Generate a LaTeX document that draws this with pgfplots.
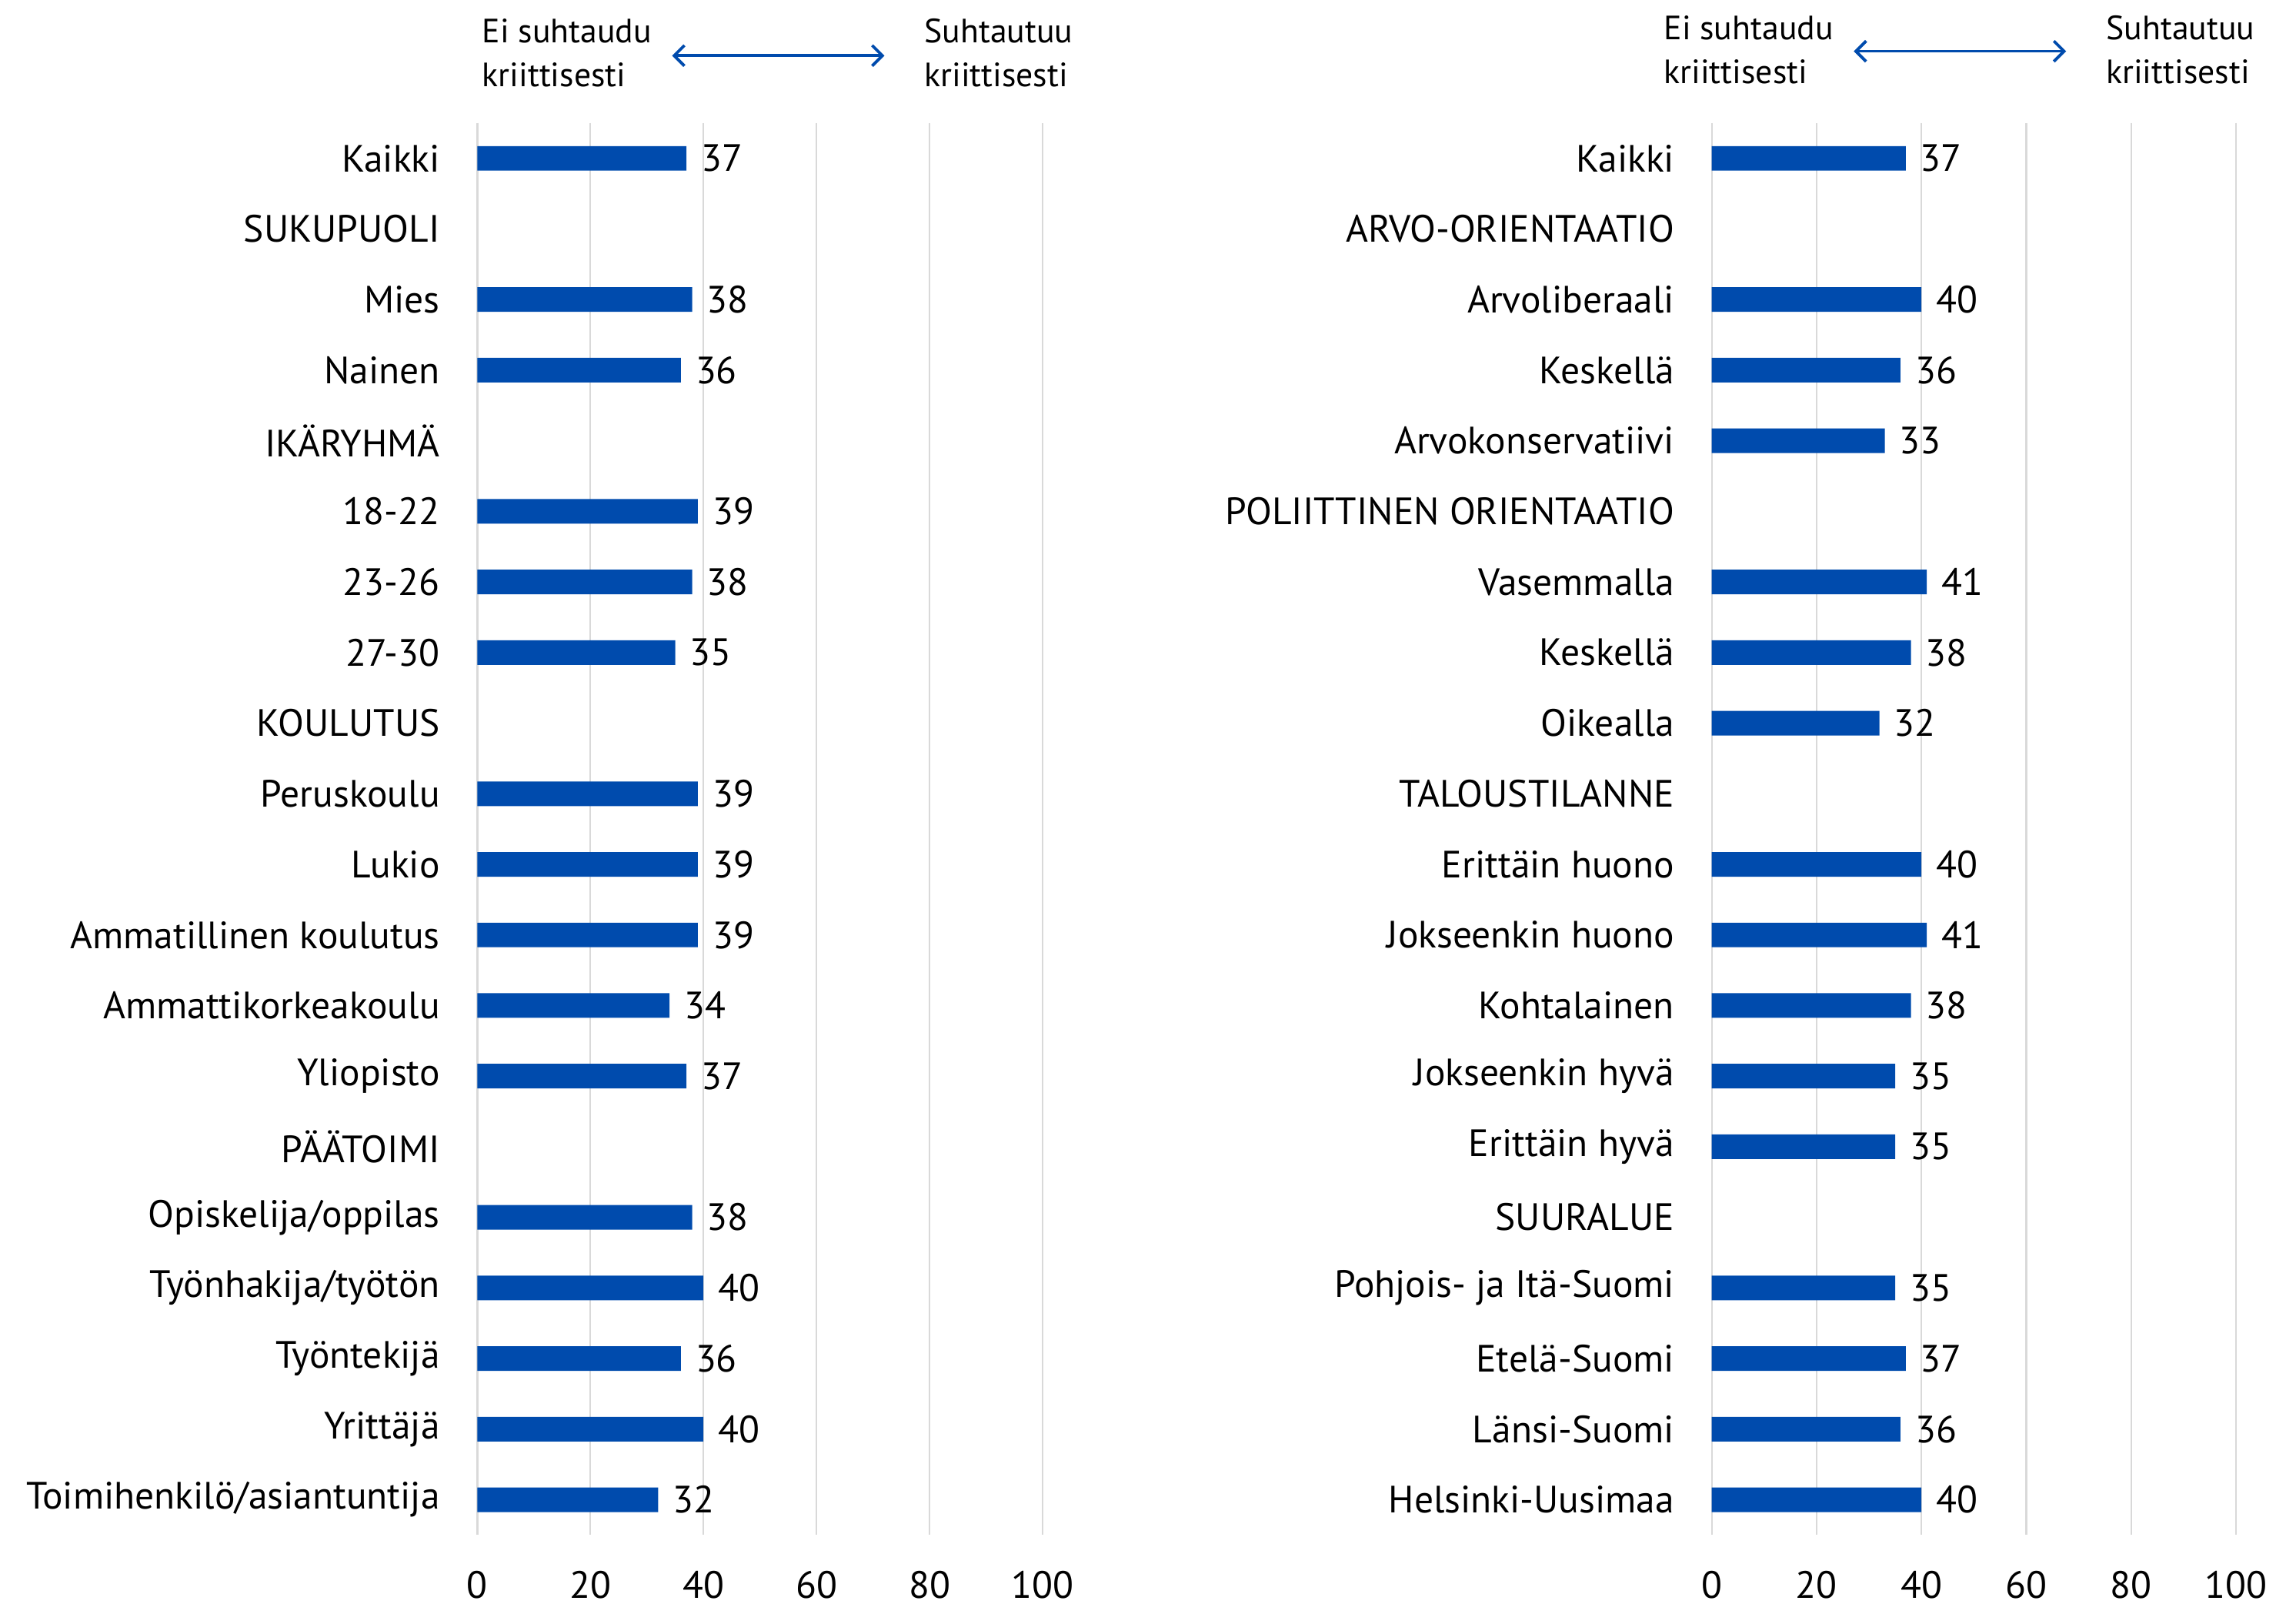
\documentclass[border=0pt]{standalone}
\usepackage{pgfplots}
\pgfplotsset{compat=1.18}
\usepackage{fontspec}
\setmainfont{PT Sans}
\usetikzlibrary{arrows.meta}
\definecolor{barblue}{RGB}{0,75,173}
\begin{document}
\begin{tikzpicture}
\path[use as bounding box] (0pt,0pt) rectangle (784pt,-547.5pt);
\pgfplotsset{
 panel/.style={
  scale only axis, height=482pt,
  anchor=south west,
  xbar, bar width=8.4pt,
  enlargelimits=false,
  xmin=0, xmax=100, xtick={0,20,...,100},
  ymin=-0.5, ymax=19.5, y dir=reverse,
  ytick={0,...,19},
  xmajorgrids, grid style={draw=black!15, line width=0.6pt},
  axis line style={draw=none},
  major tick style={draw=none},
  tick label style={font=\fontsize{13}{15}\selectfont},
  /pgf/number format/assume math mode=true,
  xticklabel style={inner sep=0pt, text depth=0pt, yshift=-12pt},
  yticklabel style={xshift=-5pt},
  nodes near coords,
  nodes near coords style={font=\fontsize{13}{15}\selectfont, text=black, xshift=1.5pt, /pgf/number format/assume math mode=true},
 }
}
\begin{axis}[panel, at={(163pt,-524pt)}, width=193pt,
  yticklabels={Kaikki,SUKUPUOLI,Mies,Nainen,IKÄRYHMÄ,18-22,23-26,27-30,KOULUTUS,Peruskoulu,Lukio,Ammatillinen koulutus,Ammattikorkeakoulu,Yliopisto,PÄÄTOIMI,Opiskelija/oppilas,Työnhakija/työtön,Työntekijä,Yrittäjä,Toimihenkilö/asiantuntija}]
\addplot[fill=barblue, draw=none] coordinates {(37,0) (38,2) (36,3) (39,5) (38,6) (35,7) (39,9) (39,10) (39,11) (34,12) (37,13) (38,15) (40,16) (36,17) (40,18) (32,19)};
\end{axis}
\begin{axis}[panel, at={(584.5pt,-524pt)}, width=179pt,
  yticklabels={Kaikki,ARVO-ORIENTAATIO,Arvoliberaali,Keskellä,Arvokonservatiivi,POLIITTINEN ORIENTAATIO,Vasemmalla,Keskellä,Oikealla,TALOUSTILANNE,Erittäin huono,Jokseenkin huono,Kohtalainen,Jokseenkin hyvä,Erittäin hyvä,SUURALUE,Pohjois- ja Itä-Suomi,Etelä-Suomi,Länsi-Suomi,Helsinki-Uusimaa}]
\addplot[fill=barblue, draw=none] coordinates {(37,0) (40,2) (36,3) (33,4) (41,6) (38,7) (32,8) (40,10) (41,11) (38,12) (35,13) (35,14) (35,16) (37,17) (36,18) (40,19)};
\end{axis}
\tikzset{hdr/.style={anchor=west, align=left, inner sep=0pt, font=\fontsize{11.5}{15}\selectfont}}
\node[hdr] at (164.5pt,-18pt) {Ei suhtaudu\\kriittisesti};
\node[hdr] at (315.5pt,-18pt) {Suhtautuu\\kriittisesti};
\draw[barblue, line width=1pt, {Straight Barb[length=3.5pt,width=7pt]}-{Straight Barb[length=3.5pt,width=7pt]}] (229.5pt,-19pt) -- (302pt,-19pt);
\node[hdr] at (568pt,-17pt) {Ei suhtaudu\\kriittisesti};
\node[hdr] at (719pt,-17pt) {Suhtautuu\\kriittisesti};
\draw[barblue, line width=1pt, {Straight Barb[length=3.5pt,width=7pt]}-{Straight Barb[length=3.5pt,width=7pt]}] (633pt,-17.5pt) -- (705.5pt,-17.5pt);
\end{tikzpicture}
\end{document}
